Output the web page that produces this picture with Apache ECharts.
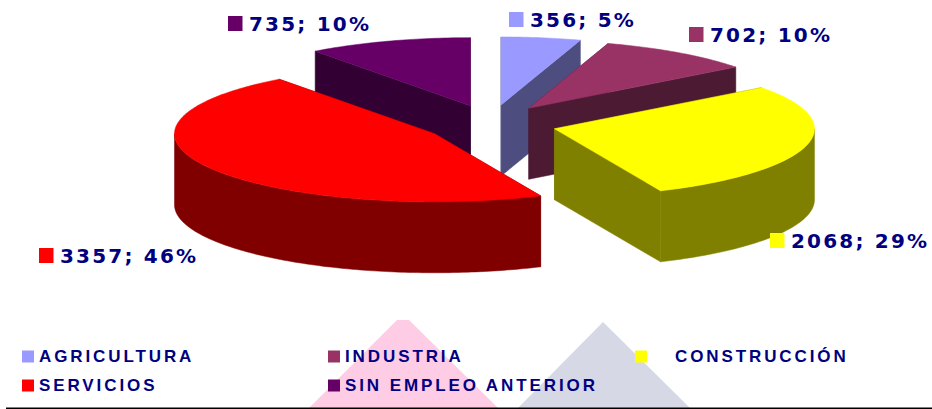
<!DOCTYPE html>
<html><head><meta charset="utf-8">
<style>
html,body{margin:0;padding:0;background:#fff}
#main{width:932px;height:409px}
#main text[style*="20px"]{letter-spacing:2.2px}
#main text[style*="17px"]{letter-spacing:2.9px}
</style>
<script src="https://cdn.jsdelivr.net/npm/echarts@6/dist/echarts.min.js"></script>
</head><body><div id="main"></div>
<script>
// data
const categories = ['AGRICULTURA','INDUSTRIA','CONSTRUCCIÓN','SERVICIOS','SIN EMPLEO ANTERIOR'];
const values = [356,702,2068,3357,735];
const percents = [5,10,29,46,10];
// style
const topColors = ['#9999FF','#993366','#FFFF00','#FF0000','#660066'];
const wallColors = ['#4D4D80','#4D1A33','#808000','#800000','#330033'];
// layout
const pie = {cx:491, cy:124, rx:260, ry:68, depth:71, explodeX:65.5, explodeY:19.3};
const labelAt = [[509,12],[689,27],[770,233],[39,248],[228,16]];
const legendAt = [[22,348,0],[328,348,0],[635,348,23],[22,377,0],[328,377,0]];
const paintOrder = [4,0,1,2,3];
const total = values.reduce((a,b)=>a+b,0);
const NAVY = '#000080';

function startFraction(i){ let s=0; for(let k=0;k<i;k++) s+=values[k]; return s/total; }
function deg(d){ return d*Math.PI/180; }

function sliceShapes(i, value){
  const a0 = startFraction(i)*360, a1 = a0 + value/total*360, mid=(a0+a1)/2;
  const ax = pie.cx + pie.explodeX*Math.sin(deg(mid));
  const ay = pie.cy - pie.explodeY*Math.cos(deg(mid));
  const P = a => [ax+pie.rx*Math.sin(deg(a)), ay-pie.ry*Math.cos(deg(a))];
  const down = p => [p[0], p[1]+pie.depth];
  const arc = (from,to) => { const o=[]; const n=Math.max(1,Math.ceil((to-from)));
    for(let k=0;k<=n;k++) o.push(P(from+(to-from)*k/n)); return o; };
  const apex=[ax,ay], out=[];
  let z=paintOrder.indexOf(i)*10;
  const poly=(pts,fill)=>out.push({type:'polygon',z2:z++,shape:{points:pts},style:{fill:fill,stroke:fill,lineWidth:0.5}});
  // side faces
  [a0,a1].forEach(a=>{ const e=P(a); poly([apex,e,down(e),down(apex)],wallColors[i]); });
  // outer wall, front half only
  const f0=Math.max(a0,90), f1=Math.min(a1,270);
  if(f1>f0){ const top=arc(f0,f1); poly(top.concat(top.map(down).reverse()),wallColors[i]); }
  // top face
  poly([apex].concat(arc(a0,a1)),topColors[i]);
  // data label with its key
  const L=labelAt[i];
  out.push({type:'rect',z2:200,shape:{x:L[0],y:L[1],width:14.5,height:15},style:{fill:topColors[i]}});
  out.push({type:'text',z2:200,style:{x:L[0]+21,y:L[1]+7.5,text:value+'; '+percents[i]+'%',
    font:'bold 20px "DejaVu Sans"',fill:NAVY,verticalAlign:'middle',align:'left'}});
  return out;
}

const series = categories.map((name,i)=>({
  name:name, type:'custom', coordinateSystem:'none', silent:true, animation:false,
  itemStyle:{color:topColors[i]},
  data:[[values[i]]],
  renderItem:(params,api)=>({type:'group',children:sliceShapes(i,api.value(0))})
}));

const legend = categories.map((name,i)=>({
  data:[name], left:legendAt[i][0], top:legendAt[i][1], orient:'horizontal', padding:0,
  icon:'rect', itemWidth:12, itemHeight:12, selectedMode:false,
  textStyle:{fontFamily:'"Liberation Sans"',fontWeight:'bold',fontSize:17,color:NAVY,
    padding:[0,0,0,legendAt[i][2]]}
}));

const chart = echarts.init(document.getElementById('main'),null,{renderer:'svg'});
chart.setOption({
  animation:false, backgroundColor:'#fff',
  legend:legend, series:series,
  graphic:[
    {type:'polygon',silent:true,z:-1,shape:{points:[[397,320],[409,320],[498,408],[309,408]]},style:{fill:'#FFCCE6'}},
    {type:'polygon',silent:true,z:-1,shape:{points:[[603,322],[690,408],[518,408]]},style:{fill:'#D6D8E6'}},
    {type:'rect',silent:true,z:-1,shape:{x:6,y:407.5,width:926,height:1.5},style:{fill:'#000'}}
  ]
});
</script></body></html>
